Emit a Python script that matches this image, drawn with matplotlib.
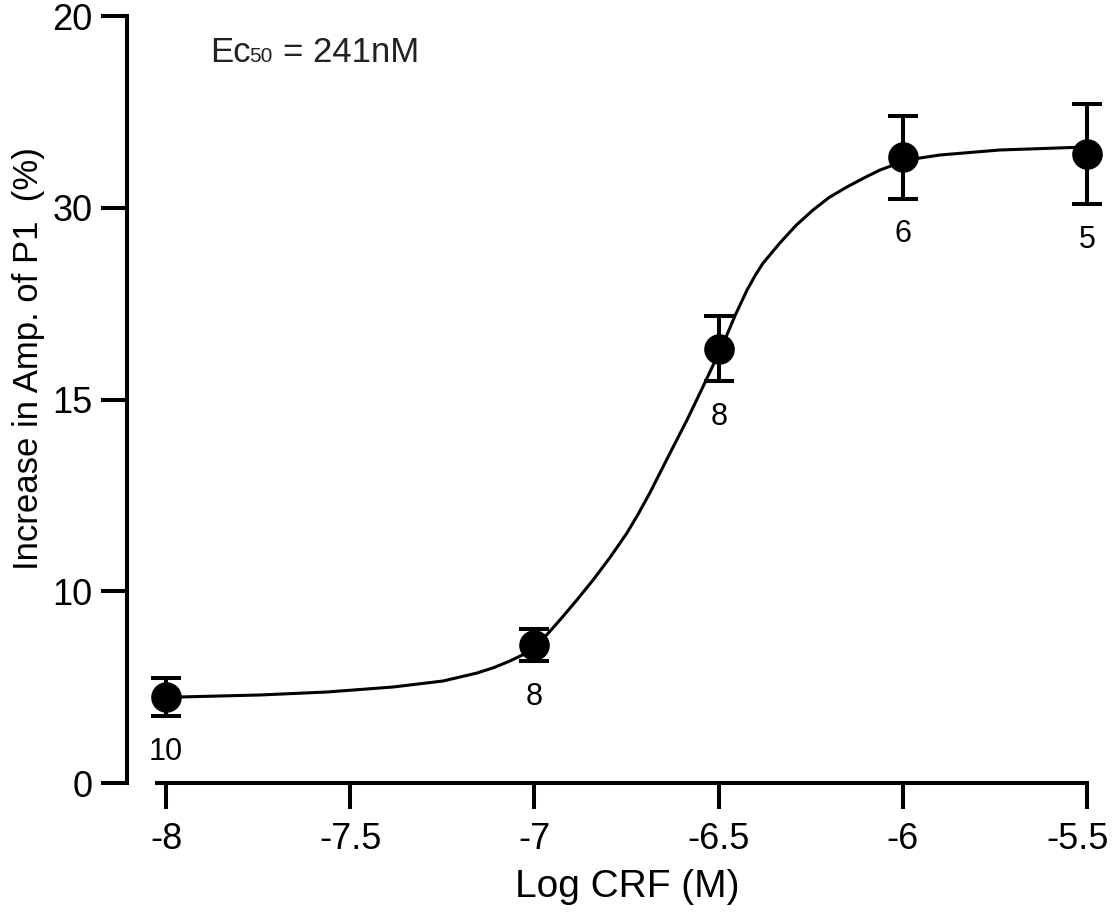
import matplotlib
matplotlib.use("Agg")
import matplotlib.pyplot as plt
import matplotlib.transforms as mtransforms

plt.rcParams['font.family'] = ['Liberation Sans', 'DejaVu Sans']
plt.rcParams['axes.unicode_minus'] = False

# mean +/- SEM, in the chart's own y units (axis shown 0..20, labels as printed)
log_crf = [-8.0, -7.0, -6.5, -6.0, -5.5]
response = [2.24, 3.60, 11.32, 16.32, 16.40]
sem = [0.50, 0.42, 0.85, 1.08, 1.31]
n_cells = ['10', '8', '8', '6', '5']

# fitted curve
fit_x = [-8.000, -7.962, -7.745, -7.563, -7.384, -7.248, -7.156, -7.110,
         -7.067, -7.030, -7.001, -6.965, -6.931, -6.886, -6.841, -6.795,
         -6.749, -6.718, -6.687, -6.632, -6.586, -6.543, -6.488, -6.455,
         -6.423, -6.400, -6.380, -6.334, -6.290, -6.244, -6.200, -6.152,
         -6.105, -6.062, -5.989, -5.900, -5.737, -5.501]
fit_y = [2.243, 2.243, 2.295, 2.373, 2.503, 2.660, 2.868, 3.010,
         3.180, 3.350, 3.550, 3.880, 4.250, 4.760, 5.293, 5.880,
         6.519, 7.020, 7.562, 8.605, 9.465, 10.326, 11.450, 12.200,
         12.855, 13.250, 13.550, 14.081, 14.540, 14.941, 15.270, 15.541,
         15.780, 15.984, 16.245, 16.375, 16.506, 16.584]

x_ticks = [-8, -7.5, -7, -6.5, -6, -5.5]
x_ticklabels = ['-8', '-7.5', '-7', '-6.5', '-6', '-5.5']
y_ticks = [0, 5, 10, 15, 20]
y_ticklabels = ['0', '10', '15', '30', '20']

fig = plt.figure(figsize=(11.14, 9.13), dpi=100)
W, H = 1114, 913
ax = fig.add_axes([127 / W, (H - 783) / H, (1100 - 127) / W, (783 - 16) / H])

ax.plot(fit_x, fit_y, color='black', lw=2.2, clip_on=False, zorder=2,
        solid_joinstyle='round')
ax.errorbar(log_crf, response, yerr=sem, fmt='o', color='black',
            markersize=21, elinewidth=2.9, capsize=11, capthick=2.9,
            clip_on=False, zorder=3)

for x, y, e, n in zip(log_crf, response, sem, n_cells):
    ax.annotate(n, xy=(x, y - e), xytext=(0, -15), textcoords='offset points',
                ha='center', va='top', fontsize=22)

ax.set_xlim(-8.106, -5.465)
ax.set_ylim(0, 20)

ax.spines['top'].set_visible(False)
ax.spines['right'].set_visible(False)
ax.spines['left'].set_linewidth(2.9)
ax.spines['bottom'].set_linewidth(2.9)
ax.spines['bottom'].set_bounds(-8.025, -5.5)
ax.spines['left'].set_capstyle('projecting')
ax.spines['bottom'].set_capstyle('projecting')

ax.set_xticks(x_ticks)
ax.set_xticklabels(x_ticklabels)
ax.set_yticks(y_ticks)
ax.set_yticklabels(y_ticklabels)
ax.tick_params(axis='both', direction='out', length=19, width=2.9,
               labelsize=26, color='black')
ax.tick_params(axis='x', pad=9)
ax.tick_params(axis='y', pad=6)

# last x label sits a little left so it stays inside the frame
last = ax.get_xticklabels()[-1]
last.set_transform(last.get_transform() +
                   mtransforms.ScaledTranslation(-10 / 100, 0, fig.dpi_scale_trans))

ax.set_xlabel('Log CRF (M)', fontsize=28)
ax.xaxis.set_label_coords(0.514, -0.112)
ax.set_ylabel('Increase in Amp. of P1  (%)', fontsize=25)
ax.yaxis.set_label_coords(-0.084, 0.554)

# EC50 note
ax.text(0.0853, 0.940, 'Ec', transform=ax.transAxes, fontsize=25,
        va='baseline', ha='left', color='#222222')
ax.text(0.1254, 0.940, '50', transform=ax.transAxes, fontsize=15,
        va='baseline', ha='left', color='#222222')
ax.text(0.1603, 0.940, '= 241nM', transform=ax.transAxes, fontsize=25,
        va='baseline', ha='left', color='#222222')

fig.savefig('out.png', dpi=100)
